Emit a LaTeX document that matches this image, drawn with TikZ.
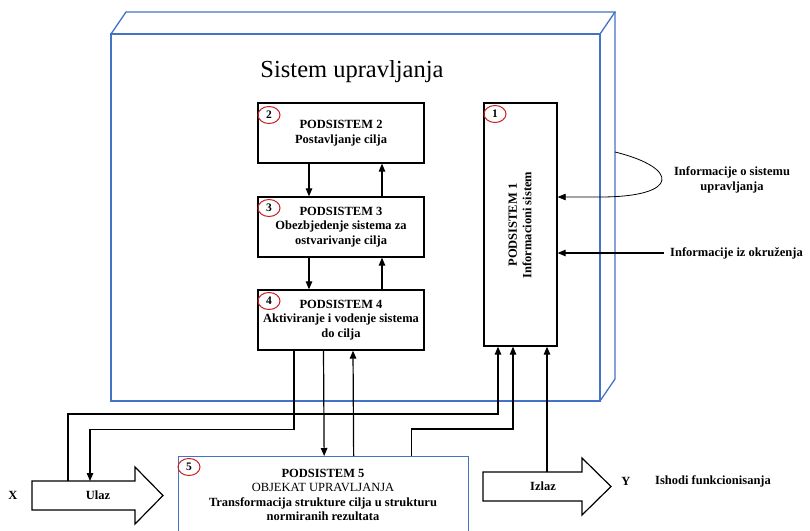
\documentclass[tikz,border=0pt]{standalone}
\usepackage{fontspec}
\setmainfont{Liberation Serif}
\usetikzlibrary{arrows.meta,shapes.geometric}
\definecolor{frameblue}{RGB}{68,114,196}
\definecolor{numred}{RGB}{200,30,30}
\begin{document}
\begin{tikzpicture}[x=1pt,y=-1pt,
  frame/.style={draw=frameblue,line width=1.3pt},
  subbox/.style={draw,line width=1.3pt,minimum width=166pt,minimum height=60pt,inner sep=0pt,align=center,
    font=\bfseries\fontsize{12.5}{14.5}\selectfont},
  txt/.style={align=center,inner sep=0pt,font=\bfseries\fontsize{12.5}{14.5}\selectfont},
  num/.style={draw=numred,ellipse,line width=1pt,minimum width=22pt,minimum height=17pt,inner sep=0pt,
    font=\bfseries\fontsize{11.5}{11.5}\selectfont},
  conn/.style={line width=1.2pt,-{Triangle[length=8pt,width=6.5pt]}},
  thinconn/.style={line width=0.8pt,-{Triangle[length=8pt,width=6.5pt]}},
  bigarrow/.style={draw,line width=1.2pt,fill=white}]
\useasboundingbox (0,0) rectangle (810,530);
\clip (0,0) rectangle (810,530);

% outer 3D frame
\draw[frame] (111,34) rectangle (600,401);
\draw[frame] (111,34) -- (126,12) -- (615,12) -- (600,34);
\draw[frame] (615,12) -- (615,379) -- (600,401);
\node[font=\fontsize{24.5}{28}\selectfont] (title) at (352,72) {Sistem upravljanja};

% subsystems
\node[subbox] (b2) at (341,133) {PODSISTEM 2\\Postavljanje cilja};
\node[subbox] (b3) at (341,227) {PODSISTEM 3\\Obezbjedenje sistema za\\ostvarivanje cilja};
\node[subbox] (b4) at (341,320) {PODSISTEM 4\\Aktiviranje i vodenje sistema\\do cilja};
\node[draw,line width=1.3pt,minimum width=73pt,minimum height=243pt,inner sep=0pt] (b1) at (520.5,224.5) {};
\node[txt,rotate=90] (b1t) at (520,225) {PODSISTEM 1\\Informacioni sistem};
\node[draw=frameblue,line width=1.3pt,minimum width=290pt,minimum height=110pt,inner sep=0pt,anchor=north west] (b5) at (178,456) {};
\node[txt] (b5t) at (323,495) {PODSISTEM 5\\{\mdseries OBJEKAT UPRAVLJANJA}\\Transformacija strukture cilja u strukturu\\normiranih rezultata};

% number markers
\node[num] (n1) at (495,114) {1};
\node[num] (n2) at (269,115) {2};
\node[num] (n3) at (269,208) {3};
\node[num] (n4) at (269,301) {4};
\node[num] (n5) at (189,467) {5};

% big arrows
\draw[bigarrow] (32,481) -- (135,481) -- (135,467) -- (163,495.5) -- (135,524) -- (135,510) -- (32,510) -- cycle;
\node[txt] (ulaz) at (98,495.5) {Ulaz};
\draw[bigarrow] (483,472) -- (582,472) -- (582,458) -- (611,486.5) -- (582,515) -- (582,501) -- (483,501) -- cycle;
\node[txt] (izlaz) at (543,486.5) {Izlaz};
\coordinate (uin) at (90,481);
\coordinate (uout) at (68,481);
\coordinate (izout) at (547,472);

% labels outside
\node[txt] (X) at (13,495.5) {X};
\node[txt] (Y) at (626,481) {Y};
\node[txt,anchor=west] (ishodi) at (655,481) {Ishodi funkcionisanja};
\node[txt] (info1) at (732,180) {Informacije o sistemu\\upravljanja};
\node[txt,anchor=west] (info2) at (670,253) {Informacije iz okruženja};
\coordinate (cs) at (615,152);
\coordinate (ok) at (664,253);

% connectors between subsystems
\draw[conn] ([xshift=-32pt]b2.south) -- ([xshift=-32pt]b3.north);
\draw[conn] ([xshift=41pt]b3.north) -- ([xshift=41pt]b2.south);
\draw[conn] ([xshift=-32pt]b3.south) -- ([xshift=-32pt]b4.north);
\draw[conn] ([xshift=41pt]b4.north) -- ([xshift=41pt]b3.south);
\draw[conn] ([xshift=-17.5pt]b4.south) -- ([xshift=0.5pt]b5.north);
\draw[conn] ([xshift=30pt]b5.north) -- ([xshift=12pt]b4.south);
\draw[conn] ([xshift=-47pt]b4.south) -- ++(0,79) -| (uin);
\draw[conn] (uout) -- ++(0,-67) -| ([xshift=-22.5pt]b1.south);
\draw[conn] ([xshift=88pt]b5.north) -- ++(0,-27) -| ([xshift=-7.5pt]b1.south);
\draw[conn] (izout) -- ([xshift=26.5pt]b1.south);
\draw[thinconn] (cs) .. controls (680,168) and (680,197) .. (600,197) -- ([yshift=27.5pt]b1.east);
\draw[conn] (ok) -- ([yshift=-28.5pt]b1.east);
\end{tikzpicture}
\end{document}
